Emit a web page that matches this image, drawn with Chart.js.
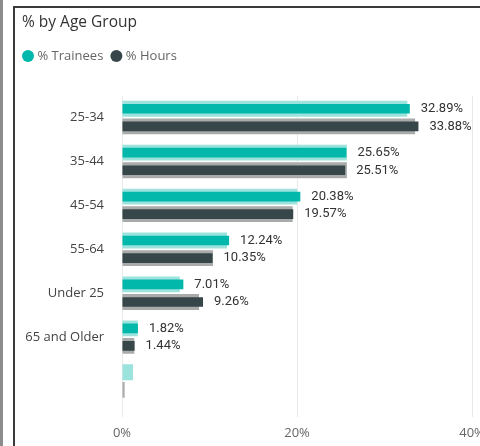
<!DOCTYPE html>
<html>
<head>
<meta charset="utf-8">
<script src="https://cdn.jsdelivr.net/npm/chart.js@4"></script>
<style>
  html, body { margin: 0; padding: 0; background: #fff; overflow: hidden; width: 480px; height: 446px; }
  #strip { position: absolute; left: 0; top: 0; width: 3px; height: 446px; background: #8c8c8c; }
  #frame { position: absolute; left: 13px; top: 6px; width: 480px; height: 446px; border-left: 2px solid #3a3a3a; border-top: 2px solid #3a3a3a; }
  #box { position: absolute; left: 15px; top: 8px; }
</style>
</head>
<body>
<div id="strip"></div>
<div id="frame"></div>
<div id="box"><canvas id="chart" width="480" height="438"></canvas></div>
<script>
// categories (last one has no label in the report)
const ageGroups = ["25-34", "35-44", "45-54", "55-64", "Under 25", "65 and Older", ""];
// current values
const pctTrainees = [32.89, 25.65, 20.38, 12.24, 7.01, 1.82, null];
const pctHours = [33.88, 25.51, 19.57, 10.35, 9.26, 1.44, null];
// faded comparison bars behind them
const pctTraineesBg = [32.6, 25.7, 20.0, 12.0, 6.6, 1.8, 1.26];
const pctHoursBg = [33.5, 25.7, 19.5, 10.4, 8.8, 1.4, 0.3];
const xTicks = [0, 20, 40];

const teal = "#01b8aa";
const dark = "#374649";

//value labels at the end of the two front bars
const valueLabels = {
  id: "valueLabels",
  afterDatasetsDraw(chart) {
    const ctx = chart.ctx;
    ctx.save();
    ctx.font = "13px Roboto";
    ctx.fillStyle = "#333";
    ctx.textBaseline = "middle";
    [0, 1].forEach((di) => {
      chart.getDatasetMeta(di).data.forEach((bar, i) => {
        const v = chart.data.datasets[di].data[i];
        if (v == null) return;
        ctx.fillText(v.toFixed(2) + "%", bar.x + 11, bar.y);
      });
    });
    ctx.restore();
  },
};

//legend: more room below, and nudged left
const legendTweak = {
  id: "legendTweak",
  beforeInit(chart) {
    const fit = chart.legend.fit;
    chart.legend.fit = function () {
      fit.call(this);
      this.height += 23;
    };
  },
  afterLayout(chart) {
    chart.legend.left -= 7;
    chart.legend.right -= 7;
  },
};

new Chart(document.getElementById("chart"), {
  type: "bar",
  plugins: [valueLabels, legendTweak],
  data: {
    labels: ageGroups,
    datasets: [
      { label: "% Trainees", data: pctTrainees, backgroundColor: teal, stack: "a", order: 0, barPercentage: 0.55 },
      { label: "% Hours", data: pctHours, backgroundColor: dark, stack: "b", order: 0, barPercentage: 0.55 },
      { label: "bgT", data: pctTraineesBg, backgroundColor: "#9be3dc", stack: "a", order: 1, barPercentage: 0.9 },
      { label: "bgH", data: pctHoursBg, backgroundColor: "#a9abab", stack: "b", order: 1, barPercentage: 0.9 },
    ],
  },
  options: {
    indexAxis: "y",
    responsive: false,
    animation: false,
    datasets: { bar: { categoryPercentage: 0.8, borderWidth: 0 } },
    layout: { padding: { left: 7, right: 23, top: 0, bottom: 0 } },
    plugins: {
      tooltip: { enabled: false },
      title: {
        display: true,
        text: "% by Age Group",
        align: "start",
        color: "#333",
        font: { family: "Open Sans", size: 15.5, weight: "normal" },
        padding: { top: 5, bottom: 8 },
      },
      legend: {
        display: true,
        align: "start",
        labels: {
          usePointStyle: true,
          pointStyle: "circle",
          boxWidth: 6,
          boxHeight: 8.5,
          padding: 10,
          color: "#666",
          font: { family: "Open Sans", size: 13 },
          filter: (item) => item.datasetIndex < 2,
        },
      },
    },
    scales: {
      x: {
        min: 0,
        max: 40,
        stacked: false,
        afterBuildTicks: (s) => { s.ticks = xTicks.map((v) => ({ value: v })); },
        ticks: {
          callback: (v) => v + "%",
          color: "#666",
          font: { family: "Open Sans", size: 13 },
          padding: 8,
          maxRotation: 0,
        },
        grid: { color: "#e9e9e9", tickLength: 14, drawTicks: true },
        border: { display: false },
        afterFit: (s) => { s.height = 43; },
      },
      y: {
        stacked: true,
        grid: { display: false },
        border: { display: false },
        ticks: {
          color: "#444",
          font: { family: "Open Sans", size: 13 },
          padding: 10,
        },
        afterFit: (s) => { s.width = 100; },
      },
    },
  },
});
</script>
</body>
</html>
